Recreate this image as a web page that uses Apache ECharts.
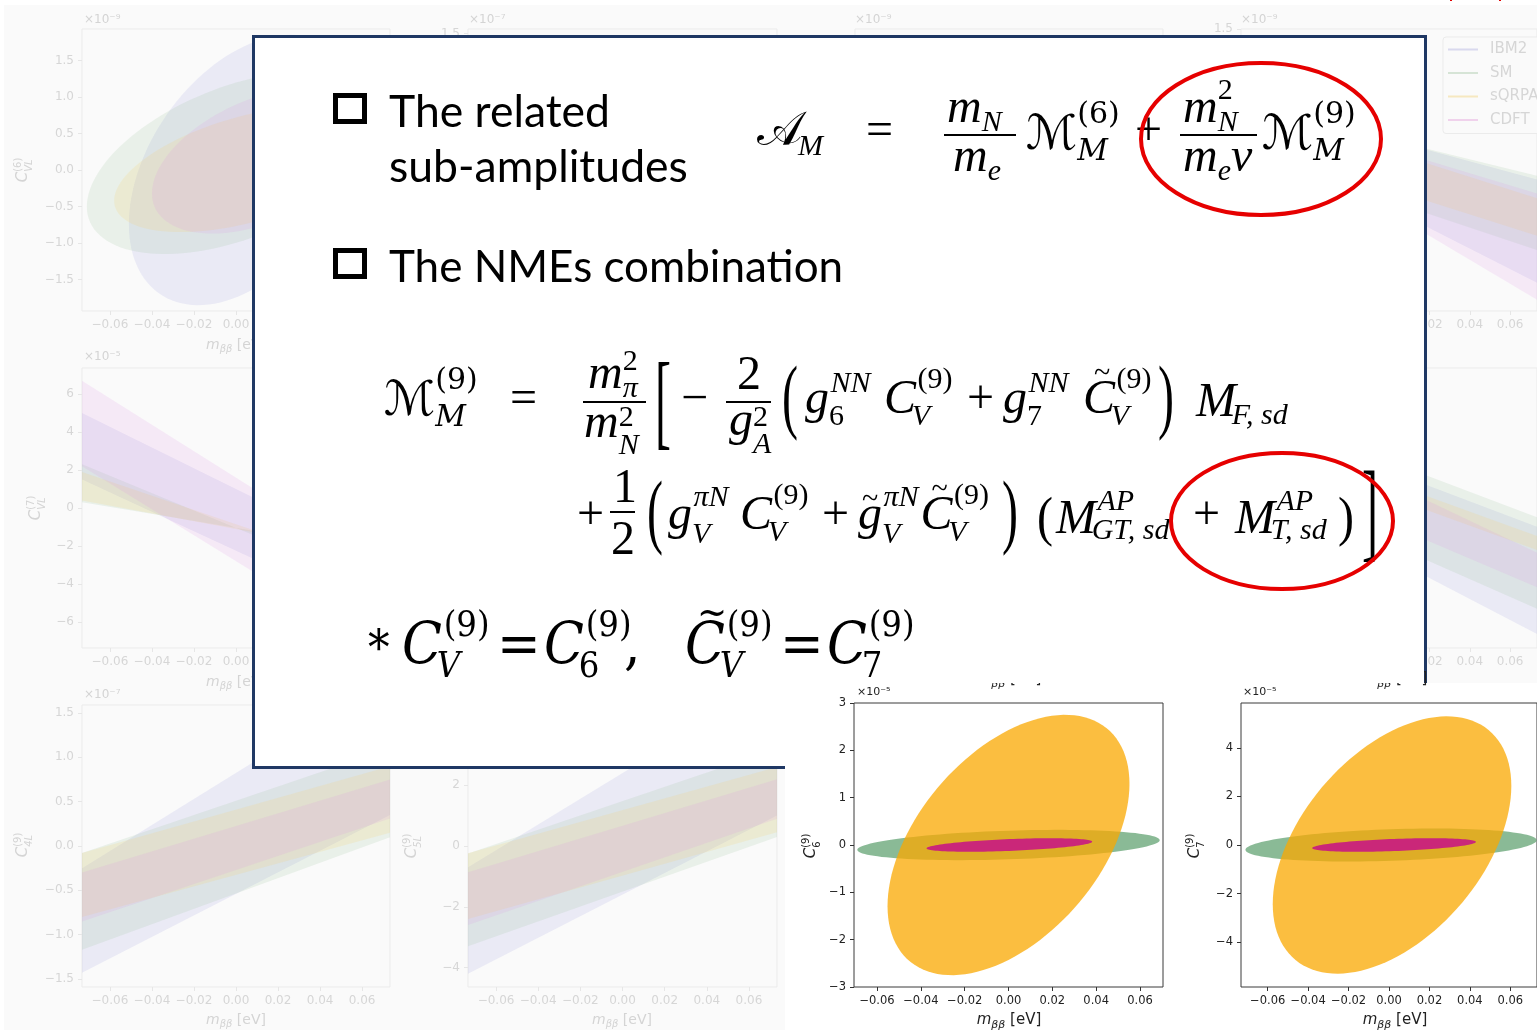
<!DOCTYPE html>
<html>
<head>
<meta charset="utf-8">
<title>C6 / C7 fits</title>
<script src="https://cdn.jsdelivr.net/npm/echarts@6.0.0/dist/echarts.min.js"></script>
<style>
  html, body { margin: 0; padding: 0; background: #fff; }
  #chart { width: 1537px; height: 1030px; }
</style>
</head>
<body>
<div id="chart"></div>
<script>
// ---- values ----
const modelNames = ['IBM2', 'SM', 'sQRPA', 'CDFT'];
const massTicks = [-0.06, -0.04, -0.02, 0, 0.02, 0.04, 0.06];

// ellipse = [centre m_bb, centre C, half width (m_bb), half height (C), correlation]
const cVL6Ellipses = [
  [0.004, 0.0, 0.055, 1.85, 0.40],
  [0.0, 0.10, 0.071, 1.25, 0.48],
  [0.005, 0.01, 0.063, 0.86, 0.50],
  [0.012, 0.13, 0.052, 1.00, 0.45]
];
// band = [top at left edge, bottom at left edge, top at right edge, bottom at right edge]
const cVL7Bands = [
  [5.0, 1.5, -3.0, -6.0],
  [2.3, 0.3, -4.4, -2.4],
  [1.9, 0.4, -3.6, -2.6],
  [6.7, 2.2, -3.5, -7.8]
];
const c4LBands = [
  [-0.25, -1.43, 1.9, 0.35],
  [-0.08, -1.17, 1.1, 0.10],
  [-0.08, -0.80, 0.9, 0.15],
  [-0.30, -0.85, 0.75, 0.31]
];
const c5LBands = [
  [-0.7, -4.2, 5.5, 1.0],
  [-0.25, -3.3, 3.2, 0.3],
  [-0.24, -2.4, 2.6, 0.45],
  [-0.86, -2.6, 2.2, 0.9]
];
const topRightBands = [
  [0.75, 0.40, -0.10, -1.20],
  [0.71, 0.20, -0.06, -0.85],
  [0.70, 0.30, -0.30, -0.70],
  [0.70, 0.49, -0.25, -1.38]
];
const midRightBands = [
  [1.00, 0.30, -0.20, -1.35],
  [1.10, 0.32, -0.10, -1.08],
  [0.85, 0.70, -0.30, -0.45],
  [1.03, 0.50, -0.48, -0.85]
];
// front panels: green fit, orange fit, magenta fit
const c6Fits = [
  [0.0, 0.0, 0.069, 0.32, 0.32],
  [0.0, 0.0, 0.0552, 2.75, 0.47],
  [0.0004, 0.0, 0.0378, 0.143, 0.49]
];
const c7Fits = [
  [0.001, 0.0, 0.072, 0.68, 0.29],
  [0.0015, 0.0, 0.059, 5.3, 0.46],
  [0.0025, 0.0, 0.0405, 0.28, 0.45]
];
const cVL6Ticks = [-1.5, -1, -0.5, 0, 0.5, 1, 1.5];
const cVL7Ticks = [-6, -4, -2, 0, 2, 4, 6];
const c4LTicks = [-1.5, -1, -0.5, 0, 0.5, 1, 1.5];
const c5LTicks = [-4, -2, 0, 2, 4];
const c6Ticks = [-3, -2, -1, 0, 1, 2, 3];
const c7Ticks = [-4, -2, 0, 2, 4];

// ---- fonts / helpers ----
const SERIF = '"Liberation Serif", "DejaVu Serif", serif';
const CAL = '"DejaVu Serif", "DejaVu Sans", serif';
const CAMB = '"DejaVu Serif Condensed", "DejaVu Serif", serif';
const LATO = 'Lato, "Open Sans", sans-serif';
const DV = '"DejaVu Sans", sans-serif';

const measureCtx = document.createElement('canvas').getContext('2d');
function textWidth(s, size, family, italic) {
  measureCtx.font = (italic ? 'italic ' : '') + size + 'px ' + family;
  return measureCtx.measureText(s).width;
}
const isIt = str => /[A-Za-z\u03c0]/.test(str);

function textEl(x, y, s, size, fam, italic, color, z, extra) {
  return Object.assign({
    type: 'text', x: x, y: y, z: z || 30, silent: true,
    style: {
      text: s, fontSize: size, fontFamily: fam,
      fontStyle: italic ? 'italic' : 'normal',
      fill: color || '#000',
      align: 'left', verticalAlign: 'middle', textAlign: 'left', textVerticalAlign: 'middle'
    }
  }, extra || {});
}

// put text with its baseline at `base`, returns the x where it ends
function put(list, x, base, s, size, o) {
  o = o || {};
  const fam = o.family || SERIF;
  list.push(textEl(x, base - 0.33 * size, s, size, fam, o.italic, o.color, o.z));
  return x + textWidth(s, size, fam, o.italic);
}

// stretched delimiter centred on cy
function delim(list, x, cy, ch, size, sy) {
  list.push(textEl(x, cy, ch, size, SERIF, false, '#000', 30, { scaleY: sy }));
  return x + textWidth(ch, size, SERIF, false);
}

// base glyph with stacked super/subscript
function scr(list, x, base, b, sup, sub, o) {
  const size = o.size, ss = o.ss || 30;
  const fam = o.family || SERIF;
  const it = isIt(b);
  const xe = put(list, x, base, b, size, { italic: it, family: fam, z: o.z, color: o.color });
  let w1 = 0, w2 = 0;
  const supDx = o.supDx !== undefined ? o.supDx : (it ? 0.03 * size : 0);
  const subDx = o.subDx !== undefined ? o.subDx : (it ? -0.09 * size : 0);
  if (sup) w1 = put(list, xe + supDx, base - (o.up || size * 0.45), sup, ss, { italic: isIt(sup), family: fam, z: o.z, color: o.color }) - xe;
  if (sub) w2 = put(list, xe + subDx, base + (o.down || size * 0.22), sub, ss, { italic: isIt(sub), family: fam, z: o.z, color: o.color }) - xe;
  return xe + Math.max(w1, w2);
}

function rule(list, x1, x2, y) {
  list.push({ type: 'line', silent: true, z: 30, shape: { x1: x1, y1: y, x2: x2, y2: y }, style: { stroke: '#000', lineWidth: 2 } });
}
function tilde(list, x, base, size, fam) {
  put(list, x, base, '~', size, { family: fam || SERIF });
}

function massName(list, cx, base, size, color, z) {
  const ss = Math.round(size * 0.72);
  const w = textWidth('m', size, DV, true) + textWidth('ββ', ss, DV, true) + textWidth(' [eV]', size, DV, false);
  let x = cx - w / 2;
  x = put(list, x, base, 'm', size, { family: DV, italic: true, color: color, z: z });
  x = put(list, x, base + size * 0.22, 'ββ', ss, { family: DV, italic: true, color: color, z: z });
  put(list, x, base, ' [eV]', size, { family: DV, color: color, z: z });
}

function coefName(list, xc, yc, sup, sub, size, color, z) {
  const kids = [];
  const end = scr(kids, 0, 0, 'C', sup, sub, { size: size, ss: Math.round(size * 0.68), family: DV, color: color, z: z, up: size * 0.42, down: size * 0.25, supDx: 0, subDx: 0 });
  list.push({ type: 'group', x: xc + 0.3 * size, y: yc + end / 2, rotation: Math.PI / 2, children: kids });
}

function fmt(v, dec) {
  return (v < -1e-9 ? '\u2212' : '') + Math.abs(v).toFixed(dec);
}

// ---- panel layout (3 x 4 faded figure + two panels in front) ----
const panels = [
  { left: 82, top: 29, width: 308, height: 282, xr: 0.0733, yr: 1.93, ticks: cVL6Ticks, dec: 1 },
  { left: 468, top: 29, width: 309, height: 282, xr: 0.0733, yr: 1.55, ticks: c4LTicks, dec: 1 },
  { left: 855, top: 29, width: 308, height: 282, xr: 0.0733, yr: 1.93, ticks: cVL6Ticks, dec: 1 },
  { left: 1241, top: 29, width: 308, height: 282, xr: 0.0733, yr: 1.5, ticks: cVL6Ticks, dec: 1 },
  { left: 82, top: 368, width: 308, height: 280, xr: 0.0733, yr: 7.37, ticks: cVL7Ticks, dec: 0 },
  { left: 468, top: 368, width: 309, height: 280, xr: 0.0733, yr: 7.37, ticks: cVL7Ticks, dec: 0 },
  { left: 855, top: 368, width: 308, height: 280, xr: 0.0733, yr: 7.37, ticks: cVL7Ticks, dec: 0 },
  { left: 1241, top: 368, width: 308, height: 280, xr: 0.0733, yr: 1.5, ticks: cVL6Ticks, dec: 1 },
  { left: 82, top: 705, width: 308, height: 282, xr: 0.0733, yr: 1.59, ticks: c4LTicks, dec: 1 },
  { left: 468, top: 705, width: 309, height: 282, xr: 0.0733, yr: 4.64, ticks: c5LTicks, dec: 0 },
  { left: 854, top: 703, width: 309, height: 284, xr: 0.0705, yr: 3, ticks: c6Ticks, dec: 0, front: true },
  { left: 1241, top: 703, width: 299, height: 284, xr: 0.0732, yr: 5.85, ticks: c7Ticks, dec: 0, front: true }
];

const grids = [], xAxes = [], yAxes = [];
panels.forEach(function (p, i) {
  const front = !!p.front;
  grids.push({
    left: p.left, top: p.top, width: p.width, height: p.height, show: true,
    backgroundColor: front ? '#fff' : '#fafafa',
    borderColor: front ? '#3a3a3a' : '#ebebeb', borderWidth: 1, z: front ? 25 : 1
  });
  const tickColor = front ? '#333' : '#e6e6e6';
  const labelColor = front ? '#222' : '#d6d6d6';
  const z = front ? 26 : 2;
  const fs = front ? 11.5 : 12;
  xAxes.push({
    type: 'value', gridIndex: i, min: -p.xr, max: p.xr, z: z, position: 'bottom',
    axisLine: { show: false, onZero: false }, splitLine: { show: false },
    axisTick: { show: true, inside: false, length: 4, customValues: massTicks, lineStyle: { color: tickColor } },
    axisLabel: { customValues: massTicks, formatter: v => fmt(v, 2), color: labelColor, fontSize: fs, fontFamily: DV, margin: 8 }
  });
  yAxes.push({
    type: 'value', gridIndex: i, min: -p.yr, max: p.yr, z: z, position: 'left',
    axisLine: { show: false, onZero: false }, splitLine: { show: false },
    axisTick: { show: true, inside: false, length: 4, customValues: p.ticks, lineStyle: { color: tickColor } },
    axisLabel: { customValues: p.ticks, formatter: v => fmt(v, p.dec), color: labelColor, fontSize: fs, fontFamily: DV, margin: 8 }
  });
});

// ---- series ----
const bgColors = ['rgba(150,150,220,0.15)', 'rgba(140,185,140,0.15)', 'rgba(250,210,100,0.17)', 'rgba(220,140,225,0.15)'];
const legendColors = ['#d9d9ee', '#d6e4d6', '#f6e8c0', '#f0d2ec'];
const fitColors = ['rgba(60,140,80,0.6)', 'rgba(249,168,0,0.75)', 'rgba(199,21,133,0.88)'];

function ellipseSeries(name, gi, item, color, z) {
  return {
    type: 'custom', name: name, coordinateSystem: 'cartesian2d', xAxisIndex: gi, yAxisIndex: gi,
    clip: true, silent: true, z: z, itemStyle: { color: color }, data: [item],
    renderItem: function (params, api) {
      const cx = api.value(0), cy = api.value(1), hx = api.value(2), hy = api.value(3), rho = api.value(4);
      const q = Math.sqrt(1 - rho * rho);
      const pts = [];
      for (let k = 0; k < 120; k++) {
        const t = 2 * Math.PI * k / 120;
        pts.push(api.coord([cx + hx * Math.cos(t), cy + hy * (rho * Math.cos(t) + q * Math.sin(t))]));
      }
      return { type: 'polygon', shape: { points: pts }, style: { fill: color } };
    }
  };
}

function bandSeries(name, gi, band, xr, color) {
  return {
    type: 'custom', name: name, coordinateSystem: 'cartesian2d', xAxisIndex: gi, yAxisIndex: gi,
    clip: true, silent: true, z: 2, itemStyle: { color: color }, data: [band],
    renderItem: function (params, api) {
      const pts = [
        api.coord([-xr, api.value(0)]), api.coord([xr, api.value(2)]),
        api.coord([xr, api.value(3)]), api.coord([-xr, api.value(1)])
      ];
      return { type: 'polygon', shape: { points: pts }, style: { fill: color } };
    }
  };
}

const series = [];
cVL6Ellipses.forEach((e, k) => series.push(ellipseSeries(modelNames[k], 0, e, bgColors[k], 2)));
[[4, cVL7Bands], [8, c4LBands], [9, c5LBands], [3, topRightBands], [7, midRightBands]].forEach(function (set) {
  set[1].forEach((b, k) => series.push(bandSeries(modelNames[k], set[0], b, panels[set[0]].xr, bgColors[k])));
});
c6Fits.forEach((e, k) => series.push(ellipseSeries('c6-' + k, 10, e, fitColors[k], 30)));
c7Fits.forEach((e, k) => series.push(ellipseSeries('c7-' + k, 11, e, fitColors[k], 30)));

// ---- graphic layer: faded labels, text box, maths ----
const G = [];
G.push({ type: 'rect', z: 0, silent: true, shape: { x: 4, y: 5, width: 1540, height: 1030 }, style: { fill: '#fafafa' } });

const fade = '#d4d4d4';
[[84, 20, '×10⁻⁹'], [469, 20, '×10⁻⁷'], [855, 20, '×10⁻⁹'], [1241, 20, '×10⁻⁹'],
 [84, 357, '×10⁻⁵'], [84, 695, '×10⁻⁷'], [469, 695, '×10⁻⁵']].forEach(function (e) {
  put(G, e[0], e[1] + 4, e[2], 12, { family: DV, color: fade, z: 1 });
});
massName(G, 236, 350, 14, fade, 1);
massName(G, 236, 687, 14, fade, 1);
massName(G, 236, 1025, 14, fade, 1);
massName(G, 622, 1025, 14, fade, 1);
coefName(G, 24, 170, '(6)', 'VL', 15, fade, 1);
coefName(G, 37, 508, '(7)', 'VL', 15, fade, 1);
coefName(G, 24, 845, '(9)', '4L', 15, fade, 1);
coefName(G, 413, 846, '(9)', '5L', 15, fade, 1);

// red words cut off at the top edge
[[1300, ','], [1398, ','], [1448, 'p'], [1497, 'p']].forEach(function (e) {
  put(G, e[0], -1, e[1], 22, { family: DV, color: '#e00000', z: 1 });
});

// text box
G.push({ type: 'rect', z: 10, silent: true, shape: { x: 253.5, y: 36.5, width: 1172, height: 731 }, style: { fill: '#fff', stroke: '#1f3864', lineWidth: 3 } });

const M = [];
[[333, 93], [333, 248]].forEach(function (b) {
  M.push({ type: 'rect', z: 30, silent: true, shape: { x: b[0] + 2.5, y: b[1] + 2.5, width: 29, height: 26 }, style: { fill: '#fff', stroke: '#000', lineWidth: 5 } });
});
put(M, 389, 127, 'The related', 44.5, { family: LATO });
put(M, 389, 182, 'sub-amplitudes', 44.5, { family: LATO });
put(M, 389, 282, 'The NMEs combination', 44, { family: LATO });

const S = 48, s = 30;
let x;
// A_M = m_N/m_e M^(6) + m_N^2/(m_e v) M^(9)
const B1 = 148;
x = put(M, 757, B1, '𝒜', S, { family: CAL });
put(M, x - 4, B1 + 9, 'M', s, { italic: true });
put(M, 866, B1, '=', S);
rule(M, 944, 1016, 135);
x = put(M, 947, 125, 'm', S, { italic: true }); put(M, x, 133, 'N', s, { italic: true });
x = put(M, 953, 174, 'm', S, { italic: true }); put(M, x, 182, 'e', s, { italic: true });
scr(M, 1026, B1 + 4, 'ℳ', '(6)', 'M', { size: S, family: CAL, up: 27, down: 10 });
put(M, 1135, B1, '+', S);
rule(M, 1180, 1257, 135);
x = put(M, 1183, 125, 'm', S, { italic: true }); put(M, x, 101, '2', s); put(M, x, 133, 'N', s, { italic: true });
x = put(M, 1183, 174, 'm', S, { italic: true }); x = put(M, x, 182, 'e', s, { italic: true }); put(M, x, 174, 'v', S, { italic: true });
scr(M, 1262, B1 + 4, 'ℳ', '(9)', 'M', { size: S, family: CAL, up: 27, down: 10 });

// M^(9) = ...
const B2 = 416;
scr(M, 384, B2 + 2, 'ℳ', '(9)', 'M', { size: S, family: CAL, up: 27, down: 10 });
put(M, 510, B2, '=', S);
rule(M, 583, 646, 402);
x = put(M, 588, 391, 'm', S, { italic: true }); put(M, x, 372, '2', s); put(M, x, 399, 'π', s, { italic: true });
x = put(M, 584, 440, 'm', S, { italic: true }); put(M, x, 428, '2', s); put(M, x, 456, 'N', s, { italic: true });
delim(M, 655, 408, '[', 48, 2.2);
put(M, 681, B2, '−', S);
rule(M, 726, 771, 402);
put(M, 737, 392, '2', S);
x = put(M, 729, 438, 'g', S, { italic: true }); put(M, x, 428, '2', s); put(M, x, 455, 'A', s, { italic: true });
delim(M, 782, 402, '(', 48, 1.7);
x = scr(M, 805, B2, 'g', 'NN', '6', { size: S, up: 22, down: 11, subDx: 0 });
scr(M, Math.max(884, x + 3), B2, 'C', '(9)', 'V', { size: S, up: 26, down: 11 });
put(M, 967, B2, '+', S);
x = scr(M, 1003, B2, 'g', 'NN', '7', { size: S, up: 22, down: 11, subDx: 0 });
x = Math.max(1083, x + 3);
tilde(M, x + 11, B2 - 32, 30);
x = scr(M, x, B2, 'C', '(9)', 'V', { size: S, up: 26, down: 11 });
delim(M, Math.max(1158, x + 2), 402, ')', 48, 1.7);
scr(M, 1196, B2 + 3, 'M', null, 'F, sd', { size: S, down: 7 });

const B3 = 532;
put(M, 577, B3, '+', S);
rule(M, 610, 635, 512);
put(M, 613, 505, '1', S);
put(M, 611, 557, '2', S);
x = delim(M, 647, 517, '(', 48, 1.7);
x = scr(M, 668, B3, 'g', 'πN', 'V', { size: S, up: 24, down: 13, subDx: 0 });
scr(M, Math.max(740, x + 2), B3, 'C', '(9)', 'V', { size: S, up: 26, down: 11 });
put(M, 822, B3, '+', S);
tilde(M, 862, B3 - 22, 30);
x = scr(M, 858, B3, 'g', 'πN', 'V', { size: S, up: 24, down: 13, subDx: 0 });
x = Math.max(905, x + 2);
tilde(M, x + 11, B3 - 32, 30);
x = scr(M, x, B3, 'C', '(9)', 'V', { size: S, up: 26, down: 11 });
delim(M, Math.max(1002, x + 2), 517, ')', 48, 1.7);
delim(M, 1037, 520, '(', 48, 1.15);
scr(M, 1056, 536, 'M', 'AP', 'GT, sd', { size: S, up: 24, down: 5 });
put(M, 1193, B3, '+', S);
x = scr(M, 1235, 536, 'M', 'AP', 'T, sd', { size: S, up: 24, down: 5 });
delim(M, Math.max(1338, x + 1), 520, ')', 48, 1.15);
delim(M, 1362, 518, ']', 48, 2.3);

// * C_V = C_6, C~_V = C_7
const B4 = 667;
const cOpt = { size: 58, ss: 36, family: CAMB, up: 28, down: 13 };
put(M, 368, 667, '*', 48, { family: CAMB });
scr(M, 402, B4, 'C', '(9)', 'V', cOpt);
put(M, 497, B4, '=', 58, { family: CAMB });
scr(M, 544, B4, 'C', '(9)', '6', cOpt);
put(M, 624, B4, ',', 58, { family: CAMB });
tilde(M, 697, B4 - 39, 40, CAMB);
scr(M, 685, B4, 'C', '(9)', 'V', cOpt);
put(M, 780, B4, '=', 58, { family: CAMB });
scr(M, 827, B4, 'C', '(9)', '7', cOpt);

// red circles
G.push({ type: 'ellipse', z: 40, silent: true, shape: { cx: 1261, cy: 139, rx: 120, ry: 76 }, style: { fill: 'none', stroke: '#e60000', lineWidth: 4 } });
G.push({ type: 'ellipse', z: 40, silent: true, shape: { cx: 1282, cy: 521, rx: 111, ry: 68 }, style: { fill: 'none', stroke: '#e60000', lineWidth: 4 } });

// front panels sit on white
G.push({ type: 'rect', z: 20, silent: true, shape: { x: 785, y: 683, width: 760, height: 350 }, style: { fill: '#fff' } });
massName(G, 1009, 684, 15, '#222', 21);
massName(G, 1395, 684, 15, '#222', 21);
G.push({ type: 'rect', z: 22, silent: true, shape: { x: 950, y: 655, width: 120, height: 28 }, style: { fill: '#fff' } });
G.push({ type: 'rect', z: 22, silent: true, shape: { x: 1340, y: 655, width: 84, height: 28 }, style: { fill: '#fff' } });
put(G, 857, 696, '×10⁻⁵', 11, { family: DV, color: '#222', z: 27 });
put(G, 1243, 696, '×10⁻⁵', 11, { family: DV, color: '#222', z: 27 });
massName(G, 1009, 1025, 15, '#222', 27);
massName(G, 1395, 1025, 15, '#222', 27);
coefName(G, 812, 846, '(9)', '6', 15, '#222', 27);
coefName(G, 1196, 846, '(9)', '7', 15, '#222', 27);

const chart = echarts.init(document.getElementById('chart'), null, { renderer: 'canvas' });
chart.setOption({
  animation: false,
  backgroundColor: '#fff',
  grid: grids,
  xAxis: xAxes,
  yAxis: yAxes,
  legend: {
    data: modelNames.map((n, k) => ({ name: n, itemStyle: { color: legendColors[k] } })),
    orient: 'vertical', left: 1443, top: 37, z: 3,
    icon: 'rect', itemWidth: 30, itemHeight: 2, itemGap: 8.5,
    padding: [5, 10, 6, 5],
    backgroundColor: '#fafafa', borderColor: '#ebebeb', borderWidth: 1, borderRadius: 3,
    textStyle: { color: '#d6d6d6', fontSize: 15, fontFamily: DV, padding: [0, 0, 0, 7] },
    selectedMode: false
  },
  graphic: { elements: G.concat(M) },
  series: series
});
</script>
</body>
</html>
